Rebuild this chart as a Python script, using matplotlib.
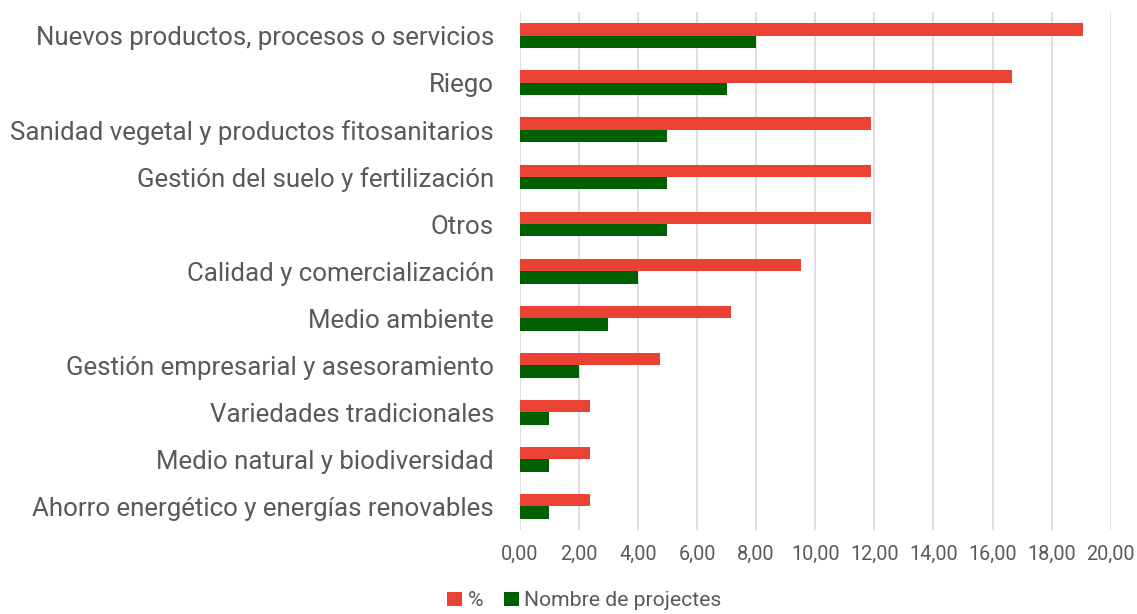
import matplotlib
matplotlib.use('Agg')
import matplotlib.pyplot as plt
import numpy as np

# Datos
categorias = [
    "Nuevos productos, procesos o servicios",
    "Riego",
    "Sanidad vegetal y productos fitosanitarios",
    "Gestión del suelo y fertilización",
    "Otros",
    "Calidad y comercialización",
    "Medio ambiente",
    "Gestión empresarial y asesoramiento",
    "Variedades tradicionales",
    "Medio natural y biodiversidad",
    "Ahorro energético y energías renovables",
]
porcentaje = [19.05, 16.67, 11.90, 11.90, 11.90, 9.52, 7.14, 4.76, 2.38, 2.38, 2.38]
n_projectes = [8, 7, 5, 5, 5, 4, 3, 2, 1, 1, 1]
xticks = [0, 2, 4, 6, 8, 10, 12, 14, 16, 18, 20]

plt.rcParams['font.family'] = ['Roboto', 'DejaVu Sans']
gris = '#595959'

fig = plt.figure(figsize=(11.37, 6.14), dpi=100)
ax = fig.add_axes([0.457, 0.137, 0.52, 0.843])

y = np.arange(len(categorias))
h = 0.265
ax.barh(y - h / 2, porcentaje, height=h, color='#EA4335', label='%', zorder=3)
ax.barh(y + h / 2, n_projectes, height=h, color='#005F00', label='Nombre de projectes', zorder=3)

ax.set_ylim(len(categorias) - 0.5, -0.5)
ax.set_xlim(0, 20)
ax.set_yticks(y)
ax.set_yticklabels(categorias, fontsize=18.6, color=gris)
ax.set_xticks(xticks)
ax.set_xticklabels([f"{v:.2f}".replace('.', ',') for v in xticks], fontsize=14.3, color=gris)
ax.tick_params(axis='both', length=0)
ax.tick_params(axis='y', pad=18.5)
ax.tick_params(axis='x', pad=11)
ax.grid(axis='x', color='#D9D9D9', linewidth=1.2, zorder=0)
for s in ax.spines.values():
    s.set_visible(False)

fig.legend(loc='lower center', bbox_to_anchor=(0.514, -0.025), ncol=2, frameon=False,
           fontsize=15.2, labelcolor=gris, handlelength=0.7, handleheight=0.7,
           handletextpad=0.25, columnspacing=1.0)

plt.savefig('out.png', dpi=100)
